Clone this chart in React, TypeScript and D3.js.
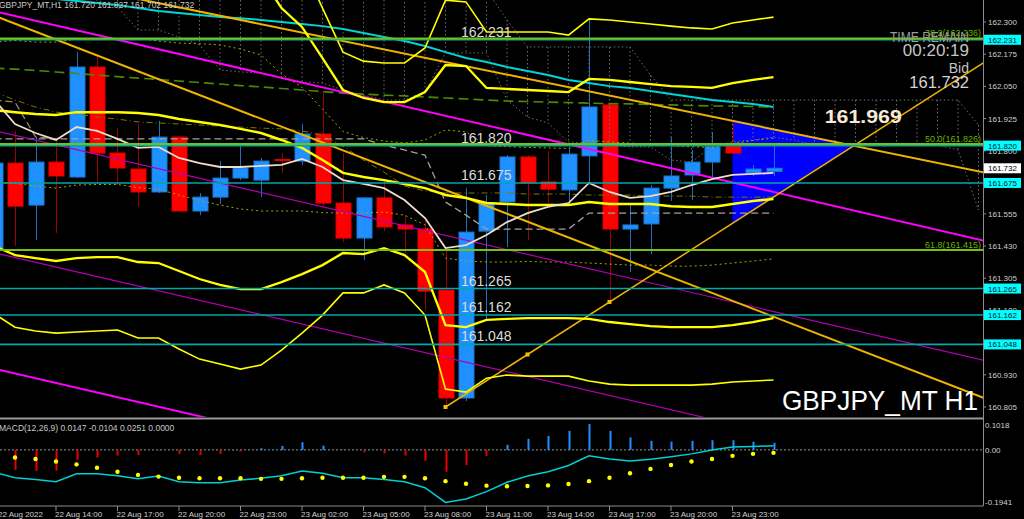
import React from 'react';
import * as d3 from 'd3';

// H1 candles, 22 Aug 11:00 .. 24 Aug 01:00
const OPEN = [161.422,161.752,161.589,161.756,161.698,162.125,161.791,161.729,161.640,161.853,161.566,161.620,161.694,161.686,161.766,161.760,161.865,161.597,161.461,161.617,161.512,161.496,161.259,160.840,161.488,161.601,161.776,161.679,161.648,161.780,161.978,161.496,161.516,161.655,161.706,161.756,161.818,161.714,161.720];
const HIGH = [161.770,161.877,161.853,161.842,162.183,162.164,161.888,161.904,161.916,161.857,161.636,161.760,161.818,161.772,161.791,161.904,162.032,161.791,161.620,161.686,161.550,161.527,161.415,161.655,161.628,161.783,161.783,161.799,161.811,162.312,161.985,161.589,161.667,161.853,161.803,161.873,161.908,161.745,161.827];
const LOW = [161.410,161.430,161.453,161.481,161.694,161.675,161.667,161.582,161.636,161.566,161.550,161.593,161.686,161.620,161.714,161.745,161.582,161.446,161.376,161.488,161.403,161.182,160.805,160.828,161.143,161.426,161.453,161.597,161.589,161.675,161.213,161.329,161.399,161.605,161.609,161.694,161.791,161.702,161.702];
const CLOSE = [161.752,161.585,161.756,161.702,162.125,161.791,161.733,161.640,161.853,161.566,161.620,161.694,161.733,161.760,161.762,161.865,161.597,161.461,161.617,161.504,161.496,161.255,160.840,161.484,161.597,161.776,161.675,161.651,161.787,161.970,161.496,161.512,161.655,161.702,161.756,161.815,161.791,161.729,161.732];

// bollinger bands (2 and 3 dev) + 1 dev dotted
const BB_MID = [161.958,161.950,161.943,161.939,161.950,161.950,161.950,161.947,161.939,161.923,161.912,161.900,161.885,161.869,161.842,161.811,161.764,161.714,161.698,161.686,161.671,161.655,161.628,161.617,161.597,161.593,161.589,161.589,161.589,161.601,161.593,161.593,161.593,161.585,161.582,161.582,161.593,161.605,161.613];
const BB_UP2 = [162.486,162.506,162.502,162.506,162.517,162.514,162.514,162.525,162.514,162.514,162.521,162.521,162.506,162.475,162.354,162.281,162.160,162.036,162.005,161.989,161.989,162.028,162.133,162.129,162.044,162.040,162.036,162.032,162.028,162.079,162.075,162.067,162.059,162.051,162.048,162.044,162.063,162.075,162.086];
const BB_UP3 = [162.750,162.785,162.785,162.785,162.805,162.801,162.797,162.820,162.805,162.816,162.832,162.828,162.816,162.770,162.657,162.529,162.354,162.183,162.148,162.141,162.141,162.199,162.385,162.378,162.261,162.261,162.261,162.261,162.249,162.312,162.308,162.300,162.292,162.284,162.277,162.273,162.296,162.308,162.319];
const BB_LO2 = [161.430,161.395,161.383,161.372,161.383,161.387,161.387,161.368,161.364,161.333,161.302,161.279,161.263,161.263,161.290,161.321,161.356,161.403,161.399,161.422,161.395,161.329,161.123,161.115,161.143,161.147,161.150,161.150,161.150,161.147,161.135,161.127,161.119,161.115,161.115,161.115,161.123,161.135,161.150];
const BB_LO3 = [161.166,161.115,161.100,161.092,161.096,161.100,161.104,161.073,161.073,161.030,160.991,160.972,160.952,160.968,161.026,161.092,161.162,161.248,161.248,161.279,161.248,161.162,160.875,160.863,160.917,160.929,160.925,160.925,160.925,160.906,160.894,160.890,160.890,160.890,160.890,160.894,160.902,160.906,160.910];
const BB_UP1 = [162.222,162.228,162.222,162.222,162.234,162.232,162.232,162.236,162.226,162.218,162.216,162.211,162.195,162.172,162.098,162.046,161.962,161.875,161.851,161.838,161.830,161.842,161.881,161.873,161.820,161.816,161.813,161.811,161.809,161.840,161.834,161.830,161.826,161.820,161.815,161.813,161.828,161.840,161.849];
const BB_LO1 = [161.679,161.673,161.663,161.655,161.667,161.669,161.669,161.657,161.651,161.628,161.607,161.589,161.574,161.566,161.566,161.566,161.560,161.558,161.558,161.562,161.550,161.512,161.383,161.372,161.368,161.368,161.370,161.368,161.368,161.364,161.360,161.356,161.356,161.352,161.352,161.356,161.364,161.372,161.380];
const OLIVE_MA = [162.028,161.997,161.970,161.950,161.943,161.931,161.923,161.912,161.908,161.904,161.900,161.896,161.892,161.888,161.885,161.877,161.861,161.818,161.764,161.717,161.663,161.644,161.636,161.636,161.636,161.636,161.632,161.632,161.632,161.628,161.628,161.628,161.624,161.624,161.624,161.620,161.620,161.620,161.620];

// moving averages
const FAST_MA = [161.997,161.904,161.869,161.842,161.892,161.877,161.846,161.811,161.815,161.772,161.752,161.737,161.737,161.741,161.745,161.768,161.737,161.686,161.671,161.655,161.609,161.539,161.422,161.434,161.473,161.523,161.558,161.582,161.597,161.675,161.640,161.617,161.624,161.640,161.667,161.690,161.706,161.710,161.714];
const CYAN_MA = [162.424,162.413,162.401,162.389,162.382,162.374,162.366,162.354,162.343,162.335,162.327,162.319,162.315,162.308,162.300,162.292,162.284,162.273,162.257,162.242,162.226,162.207,162.183,162.160,162.145,162.125,162.110,162.094,162.075,162.063,162.051,162.044,162.032,162.020,162.009,161.997,161.989,161.982,161.970];
const GREEN_MA = [162.121,162.117,162.112,162.106,162.100,162.094,162.088,162.082,162.077,162.071,162.065,162.059,162.053,162.048,162.042,162.036,162.030,162.024,162.020,162.016,162.013,162.009,162.005,162.001,161.997,161.993,161.991,161.989,161.987,161.985,161.983,161.982,161.980,161.978,161.976,161.974,161.974,161.972,161.970];

// ichimoku
const KIJUN = [161.846,161.846,161.846,161.846,161.846,161.846,161.846,161.846,161.846,161.846,161.846,161.846,161.846,161.846,161.846,161.846,161.846,161.846,161.846,161.822,161.803,161.783,161.601,161.550,161.496,161.496,161.496,161.496,161.496,161.558,161.558,161.558,161.558,161.558,161.558,161.558,161.558,161.558,161.558];
const TENKAN = [161.997,161.989,161.854,161.846];
const SPAN_TOP = [162.618,162.618,162.618,162.618,162.618,162.618,162.618,162.618,162.618,162.618,162.618,162.618,162.618,162.618,162.618,162.618,162.580,162.541,162.502,162.463,162.424,162.424,162.424,162.424,162.424,162.308,162.203,162.203,162.203,162.203,162.203,162.203,162.094,161.997,161.997,161.997,161.997,161.997,161.997,161.997,161.997,161.997,161.997,161.997,161.997,161.997,161.997,161.997,161.900];
const SPAN_BOTTOM = [162.463,162.463,162.444,162.424,162.405,162.385,162.358,162.269,162.269,162.242,162.211,162.114,162.106,162.102,162.083,162.067,162.063,162.036,162.016,161.997,161.997,162.028,162.180,162.180,162.180,161.997,161.931,161.908,161.834,161.830,161.822,161.815,161.815,161.764,161.756,161.815,161.834,161.842,161.853,161.842,161.822,161.822,161.822,161.822,161.822,161.822,161.822,161.803,161.570];

// objects: [bar index, price]
const GOLD_UPPER = [[0, 162.504], [48.5, 161.712]];
const GOLD_LOWER = [[0, 162.324], [48.5, 160.833]];
const GOLD_RISE = [[22, 160.805], [48.5, 162.155]];
const GOLD_RISE_DOTS = [[22, 160.805], [26, 161.009], [30, 161.213]];
const CHANNEL_MAIN = [[0, 162.342], [48.5, 161.446]];
const CHANNEL_2 = [[0, 161.878], [48.5, 160.982]];
const CHANNEL_3 = [[0, 161.404], [48.5, 160.508]];
const CHANNEL_4 = [[0, 160.954], [48.5, 160.058]];
const TRIANGLE = [[36, 161.916], [36, 161.519], [41.91, 161.820]];

const LEVELS = [162.231, 161.820, 161.675, 161.265, 161.162, 161.048];
const FIBO_NAMES = ['38.2', '50.0', '61.8'];
const FIBO_PRICES = [162.236, 161.826, 161.415];

const PRICE_TICKS = [162.300, 162.175, 162.050, 161.925, 161.800, 161.675, 161.555, 161.430, 161.305, 161.180, 161.055, 160.930, 160.805];
const TIME_TICKS = [0, 3, 6, 9, 12, 15, 18, 21, 24, 27, 30, 33, 36];
const TIME_LABELS = ['22 Aug 2022', '22 Aug 14:00', '22 Aug 17:00', '22 Aug 20:00', '22 Aug 23:00', '23 Aug 02:00', '23 Aug 05:00', '23 Aug 08:00', '23 Aug 11:00', '23 Aug 14:00', '23 Aug 17:00', '23 Aug 20:00', '23 Aug 23:00'];

// MACD(12,26,9)
const MACD_HIST = [-0.060,-0.071,-0.074,-0.073,-0.035,-0.027,-0.020,-0.018,-0.002,-0.014,-0.018,-0.014,-0.006,0.006,0.014,0.027,0.015,0.001,-0.008,-0.012,-0.020,-0.038,-0.077,-0.053,-0.021,0.018,0.039,0.049,0.067,0.091,0.067,0.044,0.032,0.029,0.032,0.034,0.034,0.029,0.0251];
const MACD_MAIN = [-0.079,-0.098,-0.104,-0.112,-0.084,-0.084,-0.091,-0.102,-0.092,-0.112,-0.116,-0.116,-0.106,-0.100,-0.091,-0.074,-0.082,-0.098,-0.098,-0.104,-0.112,-0.133,-0.185,-0.173,-0.147,-0.114,-0.092,-0.077,-0.055,-0.021,-0.032,-0.039,-0.033,-0.024,-0.014,0.000,0.010,0.012,0.0147];
const MACD_SIGNAL = [-0.022,-0.027,-0.032,-0.041,-0.051,-0.063,-0.077,-0.088,-0.094,-0.098,-0.100,-0.100,-0.100,-0.102,-0.102,-0.100,-0.098,-0.098,-0.098,-0.095,-0.095,-0.100,-0.110,-0.119,-0.126,-0.128,-0.127,-0.125,-0.120,-0.110,-0.098,-0.082,-0.067,-0.053,-0.041,-0.032,-0.021,-0.014,-0.0104];

const FONT = "'Liberation Sans', Arial, sans-serif";
const AXIS_X = 983;

const x = d3.scaleLinear().domain([0, 38]).range([-5.5, 773.5]);
const y = d3.scaleLinear().domain([160.805, 162.3]).range([407, 22]);
const ym = d3.scaleLinear().domain([-0.1941, 0.1018]).range([505, 421]);

const series = (vals: (number | null)[]) =>
  d3.line<number | null>()
    .defined((v) => v != null)
    .x((_, i) => x(i))
    .y((v) => y(v as number))(vals) || '';

const seg = (pts: number[][]) =>
  d3.line<number[]>().x((d) => x(d[0])).y((d) => y(d[1]))(pts) || '';

const App: React.FC = () => {
  const candles = OPEN.map((o, i) => {
    const c = CLOSE[i];
    const up = c >= o;
    const top = y(Math.max(o, c));
    const h = Math.max(1, Math.abs(y(o) - y(c)));
    const cx = Math.round(x(i)) + 0.5;
    return (
      <g key={i}>
        <line x1={cx} x2={cx} y1={y(HIGH[i])} y2={y(LOW[i])} stroke={up ? '#1f6fc0' : '#9a0000'} strokeWidth={1} />
        <rect x={cx - 7.5} y={top} width={15} height={h} fill={up ? '#1e90ff' : '#ff0000'} stroke={up ? '#1c78d4' : '#e00000'} strokeWidth={1} />
      </g>
    );
  });

  const cloud = SPAN_TOP.map((t, i) => (
    <line key={i} x1={x(i)} x2={x(i)} y1={y(t)} y2={y(SPAN_BOTTOM[i])} stroke="#6e6e6e" strokeWidth={1} strokeDasharray="1.5 2.5" />
  ));

  const macdLine = d3.line<number>().x((_, i) => x(i)).y((v) => ym(v))(MACD_MAIN) || '';

  return (
    <svg width={1024} height={519} style={{ position: 'fixed', left: 0, top: 0, background: '#000' }} fontFamily={FONT}>
      <defs>
        <clipPath id="mainClip"><rect x={0} y={0} width={AXIS_X} height={417} /></clipPath>
        <clipPath id="macdClip"><rect x={0} y={420} width={AXIS_X} height={86} /></clipPath>
      </defs>
      <rect x={0} y={0} width={1024} height={519} fill="#000" />

      <g clipPath="url(#mainClip)">
        {/* triangle in background */}
        <path d={seg(TRIANGLE) + 'Z'} fill="#0000ff" />

        {candles}

        {/* ichimoku cloud (dotted) */}
        {cloud}
        <path d={series(SPAN_TOP)} fill="none" stroke="#6e6e6e" strokeDasharray="1.5 2.5" />
        <path d={series(SPAN_BOTTOM)} fill="none" stroke="#6e6e6e" strokeDasharray="1.5 2.5" />
        <path d={series(KIJUN)} fill="none" stroke="#a8a098" strokeWidth={1.3} strokeDasharray="7 4" />
        <path d={series(TENKAN)} fill="none" stroke="#9a8a7a" strokeWidth={1.3} strokeDasharray="7 4" />

        {/* moving averages */}
        <path d={series(GREEN_MA)} fill="none" stroke="#4a8a00" strokeWidth={1.6} strokeDasharray="10 5" />
        <path d={series(OLIVE_MA)} fill="none" stroke="#7a7a00" strokeWidth={1} strokeDasharray="6 3 1 3" />
        <path d={series(BB_UP1)} fill="none" stroke="#a6a600" strokeWidth={1} strokeDasharray="2 3" />
        <path d={series(BB_LO1)} fill="none" stroke="#a6a600" strokeWidth={1} strokeDasharray="2 3" />
        <path d={series(CYAN_MA)} fill="none" stroke="#00d4d4" strokeWidth={2} />

        {/* trend objects */}
        <path d={seg(CHANNEL_MAIN)} stroke="#ff00ff" strokeWidth={2} />
        <path d={seg(CHANNEL_2)} stroke="#b000b0" strokeWidth={1.2} />
        <path d={seg(CHANNEL_3)} stroke="#b000b0" strokeWidth={1.2} />
        <path d={seg(CHANNEL_4)} stroke="#ff00ff" strokeWidth={2} />
        <path d={seg(GOLD_UPPER)} stroke="#f0b400" strokeWidth={2} />
        <path d={seg(GOLD_LOWER)} stroke="#f0b400" strokeWidth={2} />
        <path d={seg(GOLD_RISE)} stroke="#f0b400" strokeWidth={1.5} />
        {GOLD_RISE_DOTS.map((d, i) => (
          <rect key={i} x={x(d[0]) - 2} y={y(d[1]) - 2} width={4} height={4} fill="#f5c000" />
        ))}

        {/* bollinger */}
        <path d={series(BB_UP3)} fill="none" stroke="#ffff00" strokeWidth={1.6} />
        <path d={series(BB_LO3)} fill="none" stroke="#ffff00" strokeWidth={1.6} />
        <path d={series(BB_UP2)} fill="none" stroke="#ffff00" strokeWidth={2.3} />
        <path d={series(BB_LO2)} fill="none" stroke="#ffff00" strokeWidth={2.3} />
        <path d={series(BB_MID)} fill="none" stroke="#ffff00" strokeWidth={2.5} />
        <path d={series(FAST_MA)} fill="none" stroke="#eedccc" strokeWidth={1.8} />

        {/* horizontal levels */}
        {LEVELS.map((p) => (
          <line key={p} x1={0} x2={AXIS_X} y1={y(p)} y2={y(p)} stroke="#00a8a8" strokeWidth={1.6} />
        ))}
        {FIBO_PRICES.map((p) => (
          <line key={p} x1={0} x2={AXIS_X} y1={y(p)} y2={y(p)} stroke="#76c010" strokeWidth={2} />
        ))}
        {FIBO_PRICES.map((p, i) => (
          <text key={p} x={AXIS_X - 2} y={y(p) - 2} fontSize={9} fill="#6cb000" textAnchor="end">
            {`${FIBO_NAMES[i]}(${p.toFixed(3)})`}
          </text>
        ))}
        {LEVELS.map((p) => (
          <text key={p} x={x(22.75)} y={y(p) - 3} fontSize={14} fill="#dcdcdc">{p.toFixed(3)}</text>
        ))}

        <text x={x(40.5)} y={y(161.908)} fontSize={18} fontWeight="bold" fill="#f8ead6" textLength={77} lengthAdjust="spacingAndGlyphs">161.969</text>
        <text x={969} y={42} fontSize={15} fill="#9c9c9c" textAnchor="end" textLength={79} lengthAdjust="spacingAndGlyphs">TIME REMAIN</text>
        <text x={969} y={56} fontSize={17} fill="#c4c4c4" textAnchor="end">00:20:19</text>
        <text x={969} y={73} fontSize={14} fill="#c4c4c4" textAnchor="end">Bid</text>
        <text x={969} y={88} fontSize={16.5} fill="#d4d4d4" textAnchor="end">161.732</text>
        <text x={782} y={410} fontSize={28} fill="#ffffff" textLength={196} lengthAdjust="spacingAndGlyphs">GBPJPY_MT H1</text>
        <text x={-1} y={8} fontSize={8.5} fill="#c8c8c8">GBPJPY_MT,H1  161.720 161.827 161.702 161.732</text>
      </g>

      {/* price axis */}
      <line x1={AXIS_X + 0.5} x2={AXIS_X + 0.5} y1={0} y2={506} stroke="#8c8c8c" />
      {PRICE_TICKS.map((p) => (
        <g key={p}>
          <line x1={AXIS_X} x2={AXIS_X + 3} y1={y(p)} y2={y(p)} stroke="#8c8c8c" />
          <text x={988} y={y(p) + 3} fontSize={8} fill="#d0d0d0">{p.toFixed(3)}</text>
        </g>
      ))}
      {LEVELS.map((p) => (
        <g key={p}>
          <rect x={AXIS_X + 1} y={y(p) - 5} width={37} height={10} fill="#00ffff" />
          <text x={988} y={y(p) + 3} fontSize={8} fill="#101030">{p.toFixed(3)}</text>
        </g>
      ))}
      <rect x={AXIS_X + 1} y={y(CLOSE[CLOSE.length - 1]) - 5} width={37} height={10} fill="#ffffff" />
      <text x={988} y={y(CLOSE[CLOSE.length - 1]) + 3} fontSize={8} fill="#000">{CLOSE[CLOSE.length - 1].toFixed(3)}</text>

      {/* MACD window */}
      <line x1={0} x2={AXIS_X} y1={418.5} y2={418.5} stroke="#9a9a9a" strokeWidth={2} />
      <line x1={0} x2={AXIS_X} y1={506} y2={506} stroke="#8c8c8c" />
      <g clipPath="url(#macdClip)">
        <line x1={0} x2={AXIS_X} y1={ym(0)} y2={ym(0)} stroke="#9a9a9a" strokeDasharray="2 2" />
        {MACD_HIST.map((v, i) => (
          <rect key={i} x={Math.round(x(i)) - 0.5} y={Math.min(ym(0), ym(v))} width={2} height={Math.abs(ym(v) - ym(0))} fill={v >= 0 ? '#1e90ff' : '#e80000'} />
        ))}
        <path d={macdLine} fill="none" stroke="#00d0d0" strokeWidth={1.5} />
        {MACD_SIGNAL.map((v, i) => (
          <circle key={i} cx={x(i)} cy={ym(v)} r={2.2} fill="#ffff00" />
        ))}
        <text x={-1} y={431} fontSize={8.5} fill="#c8c8c8">MACD(12,26,9) 0.0147 -0.0104 0.0251 0.0000</text>
      </g>
      {[0.1018, 0, -0.1941].map((v) => (
        <text key={v} x={985} y={Math.min(Math.max(ym(v) + 3, 428), 505)} fontSize={8} fill="#d0d0d0">
          {v === 0 ? '0.00' : v.toFixed(4)}
        </text>
      ))}

      {/* time axis */}
      {TIME_TICKS.map((t, i) => (
        <g key={t}>
          <line x1={x(t)} x2={x(t)} y1={506} y2={511} stroke="#8c8c8c" />
          <text x={Math.max(x(t) - 1, -2)} y={517} fontSize={8} fill="#d0d0d0">{TIME_LABELS[i]}</text>
        </g>
      ))}
    </svg>
  );
};

export default App;
